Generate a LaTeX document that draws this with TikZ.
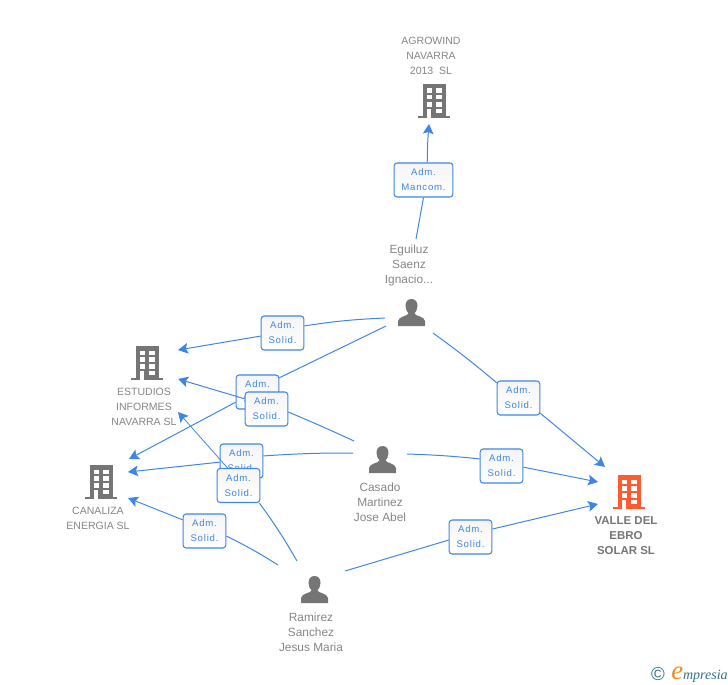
\documentclass[tikz,border=0pt]{standalone}
\usepackage{fontspec}
\setmainfont{Liberation Sans}
\newfontfamily\logofont{Liberation Serif}
\usetikzlibrary{arrows.meta}
\definecolor{linkblue}{HTML}{3F86E4}
\definecolor{iconred}{HTML}{FF5A30}
\definecolor{icongray}{HTML}{757575}
\definecolor{textgray}{HTML}{858585}
\definecolor{logoteal}{HTML}{2F7388}
\definecolor{logoorange}{HTML}{F08A1D}
\tikzset{
  buildingicon/.pic={
    \fill[pic actions] (-11,0) rectangle (12,32);
    \fill[pic actions] (-16,32) rectangle (16,34);
    \foreach \wy in {4.5,11,18}{
      \fill[white] (-7.5,\wy) rectangle (-2.5,\wy+4.5);
      \fill[white] (2,\wy) rectangle (7.5,\wy+4.5);
    }
    \fill[white] (2,24.5) rectangle (7.5,29);
    \fill[white] (-7,24.5) rectangle (-3,34);
  },
  personicon/.pic={
    \fill[pic actions] (0,0) .. controls (-4.5,0) and (-6,3.5) .. (-6,7)
      .. controls (-6,10) and (-4.5,13) .. (-3,14.5)
      .. controls (-3,17) and (-13,17) .. (-13.5,22) -- (-13.5,27) -- (13.5,27) -- (13.5,22)
      .. controls (13,17) and (3,17) .. (3,14.5)
      .. controls (4.5,13) and (6,10) .. (6,7)
      .. controls (6,3.5) and (4.5,0) .. (0,0) -- cycle;
  }
}
\begin{document}
\begin{tikzpicture}[x=0.75pt, y=-0.75pt,
    every node/.style = {align=center, inner sep=0pt},
    caption/.style = {text=textgray, font=\fontsize{8.9}{11.25}\selectfont},
    captioncaps/.style = {text=textgray, font=\fontsize{7.9}{11.25}\selectfont},
    captionbold/.style = {text=icongray, font=\fontsize{8.6}{11.25}\selectfont\bfseries},
    relbox/.style = {draw=linkblue, line width=0.8pt, rounded corners=2.2pt,
      top color=black!4, bottom color=white, text=linkblue,
      minimum width=32pt, minimum height=25.5pt,
      font=\fontsize{7.2}{11.25}\selectfont\addfontfeature{LetterSpace=8}},
    link/.style = {draw=linkblue, line width=0.75pt},
    linkto/.style = {link, -{Stealth[length=7.5pt, width=8pt, inset=1.5pt]}}]
  \useasboundingbox (0,0) rectangle (728,685);

  % companies
  \pic[fill=icongray] at (434,84) {buildingicon};
  \pic[fill=icongray] at (147,346) {buildingicon};
  \pic[fill=icongray] at (101,465) {buildingicon};
  \pic[fill=iconred] at (629,475) {buildingicon};
  \node[captioncaps] (agrowind) at (431,56) {AGROWIND\\NAVARRA\\2013\ \ SL};
  \node[captioncaps] (estudios) at (144,407) {ESTUDIOS\\INFORMES\\NAVARRA SL};
  \node[captioncaps] (canaliza) at (98,518.5) {CANALIZA\\ENERGIA SL};
  \node[captionbold] (valle) at (626,535.5) {VALLE DEL\\EBRO\\SOLAR SL};

  % people
  \pic[fill=icongray] at (411.5,299) {personicon};
  \pic[fill=icongray] at (382.5,446) {personicon};
  \pic[fill=icongray] at (314.5,576) {personicon};
  \node[caption] (eguiluz) at (409,265) {Eguiluz\\Saenz\\Ignacio...};
  \node[caption] (casado) at (380,502) {Casado\\Martinez\\Jose Abel};
  \node[caption] (ramirez) at (311,632) {Ramirez\\Sanchez\\Jesus Maria};

  % free ends
  \coordinate (agrowindS) at (429,124);
  \coordinate (estudiosE1) at (178,350);
  \coordinate (estudiosE2) at (178,379);
  \coordinate (estudiosE3) at (178,412);
  \coordinate (canalizaE1) at (129,459);
  \coordinate (canalizaE2) at (128,472);
  \coordinate (canalizaE3) at (128,498);
  \coordinate (valleW1) at (605,467);
  \coordinate (valleW2) at (598,482);
  \coordinate (valleW3) at (598,504);
  \coordinate (eguiluzN) at (416,239);
  \coordinate (eguiluzW1) at (385,318);
  \coordinate (eguiluzW2) at (386,326);
  \coordinate (eguiluzE) at (433,333);
  \coordinate (casadoW1) at (354,441);
  \coordinate (casadoW2) at (353,453);
  \coordinate (casadoE) at (407,454);
  \coordinate (ramirezN1) at (297,561);
  \coordinate (ramirezN2) at (278,565);
  \coordinate (ramirezE) at (345,571);

  % relations
  \node[relbox, minimum width=44pt] (mancom) at (423.5,180) {Adm.\\Mancom.};
  \draw[link] (eguiluzN) -- (mancom.south);
  \draw[linkto] (mancom.78) to[bend left=2] (agrowindS);

  \node[relbox] (solidA) at (282.5,333) {Adm.\\Solid.};
  \draw[link] (eguiluzW1) to[bend right=3] (solidA.18);
  \draw[linkto] (solidA.188) -- (estudiosE1);

  \node[relbox] (solidB) at (257.5,392) {Adm.\\Solid.};
  \draw[link] (eguiluzW2) -- (solidB.33);
  \draw[linkto] (solidB.205) -- (canalizaE1);

  \node[relbox] (solidC) at (518.5,398) {Adm.\\Solid.};
  \draw[link] (eguiluzE) to[bend left=2] (solidC.145);
  \draw[linkto] (solidC.325) -- (valleW1);

  \node[relbox] (solidD) at (266.5,409) {Adm.\\Solid.};
  \draw[link] (casadoW1) to[bend right=1] (solidD.352);
  \draw[linkto] (solidD.155) -- (estudiosE2);

  \node[relbox] (solidE) at (241.5,461) {Adm.\\Solid.};
  \draw[link] (casadoW2) to[bend right=2] (solidE.13);
  \draw[linkto] (solidE.183) -- (canalizaE2);

  \node[relbox] (solidF) at (501.5,466) {Adm.\\Solid.};
  \draw[link] (casadoE) to[bend left=2] (solidF.162);
  \draw[linkto] (solidF.357) -- (valleW2);

  \node[relbox] (solidG) at (238.5,485.5) {Adm.\\Solid.};
  \draw[link] (ramirezN1) to[bend right=3] (solidG.320);
  \draw[linkto, line width=0.6pt] (solidG.122) -- (estudiosE3);

  \node[relbox] (solidH) at (204.5,531) {Adm.\\Solid.};
  \draw[link] (ramirezN2) to[bend right=3] (solidH.347);
  \draw[linkto] (solidH.153) -- (canalizaE3);

  \node[relbox] (solidI) at (470.5,537) {Adm.\\Solid.};
  \draw[link] (ramirezE) -- (solidI.188);
  \draw[linkto] (solidI.20) -- (valleW3);

  % logo
  \node[text=logoteal, font=\fontsize{14}{14}\selectfont] (logoC) at (658,674) {\textcopyright};
  \node[anchor=base west, text=logoteal, font=\fontsize{10.5}{10.5}\logofont\itshape] (logoT) at (671,679)
    {{\color{logoorange}\fontsize{20}{20}\selectfont e}mpresia};
\end{tikzpicture}
\end{document}
